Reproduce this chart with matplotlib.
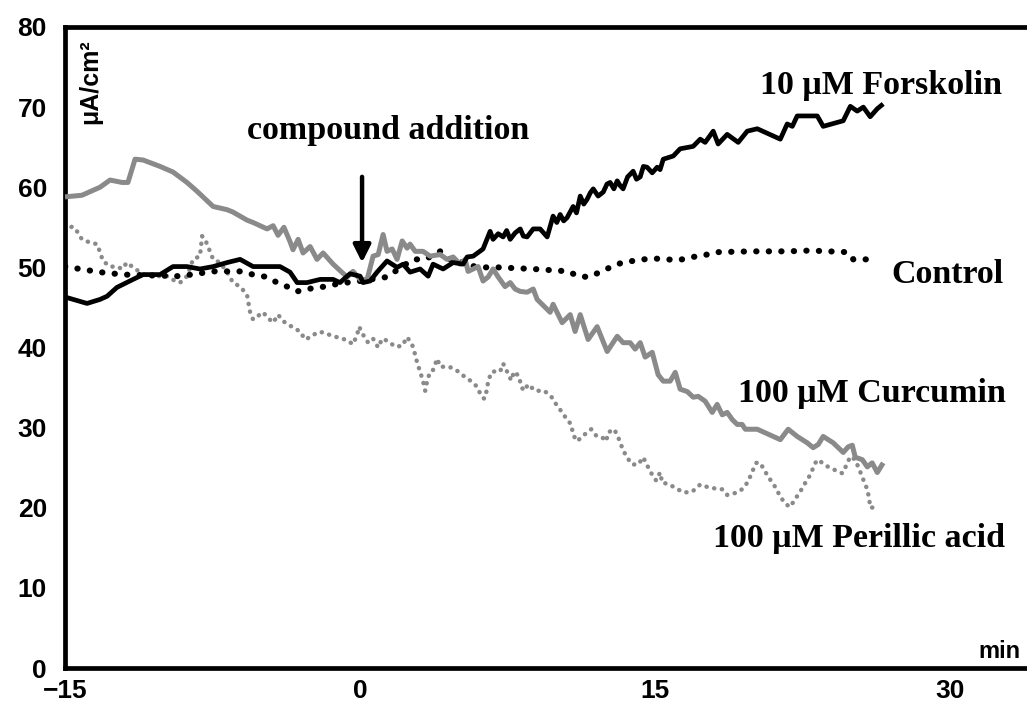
import matplotlib
matplotlib.use("Agg")
import matplotlib.pyplot as plt

# ---------------- data (minutes, µA/cm²) ----------------
forsk_t = [-15.00, -13.88, -13.22, -12.86, -12.36, -11.54, -11.03, -10.17, -9.51, -8.80,
           -8.14, -7.47, -6.76, -6.10, -5.44, -4.73, -4.07, -3.56, -3.20, -2.70,
           -2.03, -1.37, -1.02, -0.66, -0.51, 0.00, 0.15, 0.51, 0.86, 1.37,
           1.88, 2.19, 2.54, 3.05, 3.46, 3.71, 4.22, 4.73, 5.24, 5.44,
           5.75, 6.25, 6.61, 6.76, 7.02, 7.27, 7.45, 7.63, 7.88, 8.14,
           8.30, 8.49, 8.80, 9.15, 9.51, 9.81, 10.00, 10.17, 10.35, 10.52,
           10.83, 11.00, 11.19, 11.37, 11.54, 11.70, 11.85, 12.10, 12.36, 12.55,
           12.71, 12.90, 13.07, 13.22, 13.37, 13.60, 13.88, 14.05, 14.24, 14.40,
           14.59, 14.85, 15.10, 15.25, 15.41, 15.92, 16.27, 16.93, 17.29, 17.54,
           17.95, 18.20, 18.66, 19.22, 19.68, 20.19, 21.36, 21.71, 21.97, 22.22,
           23.24, 23.54, 24.56, 24.92, 25.27, 25.58, 25.93, 26.29, 26.59]
forsk_y = [46.3, 45.5, 46.0, 46.4, 47.5, 48.5, 49.1, 49.1, 50.1, 50.1,
           49.8, 50.1, 50.6, 51.0, 50.1, 50.1, 50.1, 49.4, 48.1, 48.1,
           48.5, 48.5, 48.1, 48.9, 49.2, 48.9, 48.1, 48.3, 49.4, 50.8,
           50.0, 50.4, 49.4, 49.8, 48.9, 50.4, 49.8, 50.6, 50.4, 51.3,
           51.4, 52.3, 54.5, 53.5, 54.2, 53.8, 54.6, 53.5, 54.3, 54.8,
           53.9, 53.8, 54.8, 54.8, 53.8, 56.4, 55.6, 56.6, 55.8, 56.2,
           57.6, 56.8, 58.9, 57.9, 58.5, 59.3, 59.8, 58.9, 59.4, 60.4,
           60.6, 59.8, 60.8, 60.2, 59.8, 61.3, 62.0, 61.0, 61.3, 62.6,
           62.5, 61.8, 62.5, 62.2, 63.5, 63.9, 64.8, 65.1, 66.0, 65.6,
           67.0, 65.4, 66.6, 65.6, 67.0, 67.3, 66.0, 67.9, 67.6, 68.9,
           68.9, 67.6, 68.3, 70.1, 69.5, 70.0, 68.8, 69.8, 70.4]

curc_t = [-15.00, -14.14, -13.22, -12.71, -12.10, -11.80, -11.44, -11.03, -10.17, -9.51,
          -8.80, -8.29, -7.47, -6.76, -6.46, -5.75, -5.44, -4.73, -4.42, -4.17,
          -3.87, -3.56, -3.41, -3.15, -2.90, -2.54, -2.19, -1.88, -1.37, -1.02,
          -0.66, -0.36, 0.00, 0.36, 0.66, 0.92, 1.17, 1.37, 1.63, 1.88,
          2.14, 2.39, 2.54, 2.80, 3.20, 3.56, 4.07, 4.42, 4.73, 5.08,
          5.34, 5.49, 5.75, 6.00, 6.25, 6.51, 6.76, 7.02, 7.37, 7.63,
          7.88, 8.14, 8.49, 8.80, 9.00, 9.66, 9.81, 10.27, 10.68, 10.93,
          11.19, 11.59, 12.05, 12.56, 13.07, 13.37, 13.73, 13.98, 14.24, 14.49,
          14.85, 15.15, 15.41, 15.76, 16.02, 16.27, 16.63, 16.93, 17.19, 17.54,
          17.90, 18.15, 18.41, 18.66, 18.92, 19.17, 19.42, 19.58, 20.19, 21.36,
          21.76, 22.22, 22.73, 23.03, 23.29, 23.54, 24.05, 24.56, 24.81, 25.02,
          25.17, 25.53, 25.78, 26.03, 26.29, 26.59]
curc_y = [58.8, 59.0, 60.0, 60.9, 60.6, 60.6, 63.5, 63.4, 62.6, 61.9,
          60.6, 59.5, 57.6, 57.2, 56.9, 55.9, 55.6, 54.8, 55.2, 54.0,
          55.0, 53.2, 52.2, 53.5, 51.8, 52.6, 51.0, 51.8, 50.4, 49.6,
          48.8, 49.5, 48.5, 48.5, 51.4, 51.6, 54.1, 52.0, 52.3, 51.0,
          53.3, 52.4, 52.9, 52.0, 52.0, 51.4, 51.6, 51.0, 51.3, 50.4,
          51.0, 49.5, 49.8, 50.1, 48.3, 48.8, 49.8, 48.8, 47.6, 48.1,
          47.3, 47.0, 46.9, 47.3, 46.0, 44.4, 45.4, 43.1, 44.1, 42.0,
          44.1, 41.0, 42.6, 39.5, 41.4, 40.6, 40.6, 39.8, 40.6, 38.8,
          39.4, 36.6, 35.8, 35.8, 36.9, 34.8, 34.5, 33.8, 33.9, 33.3,
          31.9, 32.9, 31.6, 31.9, 31.0, 30.4, 30.4, 29.8, 29.8, 28.5,
          29.8, 28.9, 28.1, 27.5, 27.9, 28.9, 28.1, 26.9, 27.6, 27.8,
          26.3, 26.0, 25.1, 25.6, 24.4, 25.6]

ctrl_t = [-15.00, -13.22, -12.05, -9.15, -7.47, -6.10, -5.44, -4.73, -4.22, -3.71,
          -3.20, -2.70, -2.03, -1.02, 0.00, 1.37, 1.78, 2.69, 3.31, 4.07,
          4.58, 5.24, 5.95, 7.02, 8.80, 10.02, 10.58, 11.08, 11.59, 12.20,
          12.71, 13.32, 14.39, 15.00, 16.17, 16.93, 17.64, 18.15, 19.93, 21.71,
          22.88, 24.76, 25.07, 26.29]
ctrl_y = [50.1, 49.4, 49.1, 48.9, 49.5, 49.5, 49.1, 48.8, 48.1, 47.6,
          47.0, 47.3, 47.5, 48.0, 48.3, 48.8, 49.5, 51.0, 51.0, 52.0,
          51.0, 50.6, 50.0, 50.0, 49.8, 49.6, 49.5, 48.9, 48.8, 49.4,
          50.0, 50.6, 51.0, 51.1, 50.9, 51.3, 51.6, 51.9, 52.0, 52.0,
          52.1, 51.9, 51.0, 51.0]

peri_t = [-15.00, -14.64, -14.39, -14.14, -13.73, -13.37, -13.22, -13.07, -12.71, -12.36,
          -12.10, -11.85, -11.59, -11.19, -10.83, -9.81, -9.56, -9.15, -8.80, -8.49,
          -8.14, -8.03, -7.88, -7.73, -7.47, -7.12, -6.76, -6.46, -6.10, -5.75,
          -5.59, -5.44, -4.93, -4.73, -4.42, -4.17, -3.92, -3.41, -3.05, -2.80,
          -2.44, -2.19, -1.88, -1.37, -1.02, -0.66, -0.36, -0.15, -0.05, 0.15,
          0.41, 0.66, 0.92, 1.12, 1.42, 1.78, 2.14, 2.39, 2.64, 2.80,
          2.90, 3.05, 3.20, 3.31, 3.41, 3.56, 3.71, 3.92, 4.07, 4.53,
          4.93, 5.29, 5.64, 5.95, 6.15, 6.31, 6.46, 6.51, 6.71, 7.12,
          7.27, 7.47, 7.68, 7.83, 8.08, 8.19, 8.34, 8.54, 8.90, 9.36,
          9.71, 9.97, 10.27, 10.52, 10.73, 10.83, 11.03, 11.34, 11.75, 12.00,
          12.30, 12.51, 12.61, 12.92, 13.12, 13.32, 13.53, 13.83, 14.14, 14.39,
          14.59, 14.85, 15.05, 15.25, 15.36, 15.66, 16.07, 16.47, 16.88, 17.29,
          17.64, 18.05, 18.41, 18.66, 19.17, 19.47, 19.73, 19.93, 20.14, 20.34,
          20.59, 20.85, 21.10, 21.36, 21.61, 21.86, 22.12, 22.37, 22.63, 22.88,
          23.14, 23.29, 23.64, 24.05, 24.51, 24.66, 24.92, 25.17, 25.42, 25.58,
          25.78, 25.88, 25.93, 26.34]
peri_y = [54.5, 55.1, 54.5, 53.5, 53.1, 52.9, 51.9, 50.8, 50.1, 50.1,
          49.8, 50.6, 50.1, 49.4, 48.9, 48.9, 48.5, 48.1, 48.9, 51.0,
          51.4, 53.9, 53.5, 52.6, 51.0, 50.6, 49.4, 48.1, 47.6, 46.6,
          44.4, 43.5, 44.4, 43.8, 43.1, 44.1, 43.3, 42.5, 42.0, 41.0,
          41.4, 41.9, 41.9, 41.4, 41.2, 40.9, 40.4, 41.6, 42.6, 41.6,
          40.6, 41.1, 40.0, 41.1, 40.8, 40.1, 40.2, 41.3, 40.4, 39.1,
          38.1, 37.0, 35.8, 34.6, 35.8, 37.0, 37.2, 38.6, 37.6, 37.6,
          37.1, 36.4, 35.8, 35.1, 34.0, 33.6, 34.8, 35.9, 37.0, 37.0,
          38.0, 37.0, 35.9, 37.0, 36.4, 35.1, 34.6, 35.4, 34.6, 34.6,
          33.9, 32.9, 31.9, 31.0, 30.4, 29.1, 28.3, 29.0, 29.8, 29.0,
          28.8, 28.3, 29.4, 29.8, 28.8, 27.5, 26.4, 25.4, 25.4, 26.3,
          25.3, 24.1, 23.4, 24.4, 23.1, 23.0, 22.4, 21.9, 22.0, 22.9,
          22.6, 22.4, 22.3, 21.6, 21.9, 22.4, 23.3, 24.5, 25.6, 25.6,
          24.5, 23.5, 22.6, 21.4, 20.5, 20.1, 21.1, 22.0, 23.1, 24.1,
          25.6, 26.0, 25.3, 24.8, 24.3, 25.0, 26.4, 26.0, 24.5, 23.5,
          22.3, 21.1, 20.0, 20.1]

x_ticks = [-15, 0, 15, 30]
y_ticks = [0, 10, 20, 30, 40, 50, 60, 70, 80]

# ---------------- figure ----------------
W, H = 1027, 711
fig = plt.figure(figsize=(W / 100, H / 100), dpi=100)
ax = fig.add_axes([65 / W, (H - 668) / H, (W - 65) / W, (668 - 27) / H])

GRAY = "#8a8a8a"
ax.plot(peri_t, peri_y, color=GRAY, lw=3.2, linestyle=(0, (0.05, 1.7)),
        dash_capstyle="round", zorder=2)
ax.plot(ctrl_t, ctrl_y, color="black", lw=4.4, linestyle=(0, (0.05, 2.0)),
        dash_capstyle="round", zorder=3)
ax.plot(curc_t, curc_y, color=GRAY, lw=3.6, solid_joinstyle="round",
        solid_capstyle="butt", zorder=4)
ax.plot(forsk_t, forsk_y, color="black", lw=3.4, solid_joinstyle="round",
        solid_capstyle="butt", zorder=5)

ax.set_xlim(-15, 33.9)
ax.set_ylim(0, 80)
ax.set_xticks(x_ticks)
ax.set_yticks(y_ticks)
ax.set_xticklabels([("\u2212" if v < 0 else "") + str(abs(v)) for v in x_ticks])
sans = ["Liberation Sans", "DejaVu Sans"]
serif = ["Liberation Serif", "DejaVu Serif"]
for lab in ax.get_xticklabels() + ax.get_yticklabels():
    lab.set_fontfamily(sans)
    lab.set_fontweight("bold")
    lab.set_fontsize(19)
ax.tick_params(axis="both", length=0)
ax.tick_params(axis="y", pad=13)
ax.tick_params(axis="x", pad=8)

for side in ["top", "left", "bottom"]:
    ax.spines[side].set_linewidth(3.4)
    ax.spines[side].set_color("black")
ax.spines["right"].set_visible(False)

ax.text(-13.73, 73.2, "μA/cm²", rotation=90, ha="center", va="center",
        fontsize=18, fontweight="bold", family=sans)
ax.text(32.5, 2.1, "min", ha="center", va="center", fontsize=17,
        fontweight="bold", family=sans)

tkw = dict(fontsize=24.5, fontweight="bold", family=serif)
ax.text(1.42, 66.0, "compound addition", ha="center", va="baseline", **tkw)
ax.text(32.64, 71.6, "10 μM Forskolin", ha="right", va="baseline", **tkw)
ax.text(32.7, 48.1, "Control", ha="right", va="baseline", **tkw)
ax.text(32.85, 33.25, "100 μM Curcumin", ha="right", va="baseline", **tkw)
ax.text(32.8, 15.1, "100 μM Perillic acid", ha="right", va="baseline", **tkw)

ax.annotate("", xy=(0.1, 50.6), xytext=(0.1, 61.3),
            arrowprops=dict(arrowstyle="-|>", lw=3.2, color="black",
                            mutation_scale=26, shrinkA=0, shrinkB=0))

fig.savefig("out.png", dpi=100)
